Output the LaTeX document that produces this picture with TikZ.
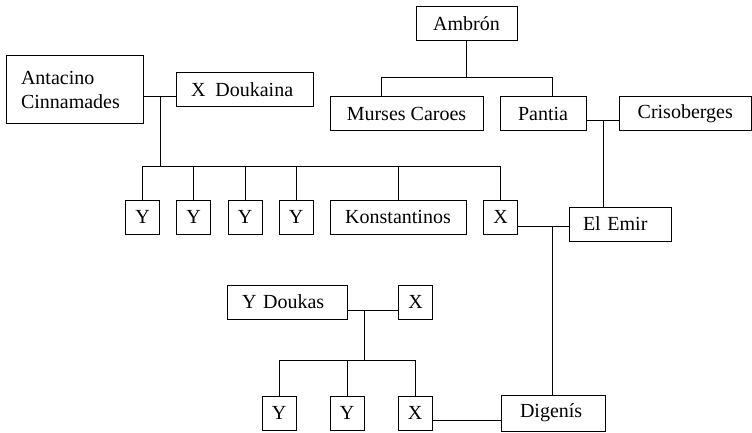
\documentclass[tikz,border=0pt]{standalone}
\usepackage{fontspec}
\setmainfont{Liberation Serif}
\begin{document}
\begin{tikzpicture}[x=1pt,y=-1pt,line width=1pt,
    every node/.style={font=\fontsize{20}{24}\selectfont},
    box/.style={draw, inner sep=0pt, outer sep=0pt, align=center, minimum height=34pt},
    small/.style={box, minimum width=34pt}]
       \useasboundingbox (0,0) rectangle (752,433);
       \path (74.5,90)   node[box, minimum width=137pt, minimum height=68pt, align=left, text width=107pt] (antacino) {Antacino\\Cinnamades}
             (244.5,90)  node[box, minimum width=137pt, align=left, text width=107pt] (doukaina) {X\, Doukaina}
             (466.5,24)  node[box, minimum width=101pt] (ambron) {Ambrón}
             (406.5,114) node[box, minimum width=153pt] (murses) {Murses Caroes}
             (543,114)   node[box, minimum width=86pt]  (pantia) {Pantia}
             (685.25,114) node[box, minimum width=132.5pt] (crisoberges) {Crisoberges}
             (142.5,217) node[small] (ya) {Y}
             (193.5,217) node[small] (yb) {Y}
             (245,217)   node[small] (yc) {Y}
             (296,217)   node[small] (yd) {Y}
             (398,217)   node[box, minimum width=136pt] (konstantinos) {Konstantinos}
             (500.5,217) node[small] (xa) {X}
             (620,224)   node[box, minimum width=102pt, align=left, text width=74pt] (emir) {El Emir}
             (287,302)   node[box, minimum width=120pt, align=left, text width=90pt] (doukas) {Y Doukas}
             (415.5,302) node[small] (xb) {X}
             (279,413)   node[small] (ye) {Y}
             (347,413)   node[small] (yf) {Y}
             (415,413)   node[small] (xc) {X}
             (553,413)   node[box, minimum width=104pt, minimum height=36pt, align=left, text width=66pt] (digenis) {\raisebox{-1pt}{Digenís}};
       % junctions
       \coordinate (m1) at (160,97);
       \coordinate (b1) at (160,166);
       \coordinate (b2) at (466.5,78);
       \coordinate (b2l) at (381,78);
       \coordinate (b2r) at (552,78);
       \coordinate (m2) at (603,121);
       \coordinate (m3) at (552,226);
       \coordinate (m4) at (364,310);
       \coordinate (b3) at (364,360);
       \coordinate (m5) at (466,420);
       \draw (antacino.east |- m1) -- (doukaina.west |- m1);
       \draw (m1) -- (b1);
       \draw (ya.north) -- (ya |- b1) -- (xa |- b1) -- (xa.north);
       \foreach \n in {yb,yc,yd,konstantinos}
         \draw (\n.north) -- (\n |- b1);
       \draw (ambron) -- (b2);
       \draw (b2l |- murses.north) -- (b2l) -- (b2r) -- (b2r |- pantia.north);
       \draw (pantia.east |- m2) -- (crisoberges.west |- m2);
       \draw (m2) -- (m2 |- emir.north);
       \draw (xa.east |- m3) -- (emir.west |- m3);
       \draw (m3) -- (m3 |- digenis.north);
       \draw (doukas.east |- m4) -- (xb.west |- m4);
       \draw (m4) -- (b3);
       \draw (ye.north) -- (ye |- b3) -- (xc |- b3) -- (xc.north);
       \draw (yf.north) -- (yf |- b3);
       \draw (xc.east |- m5) -- (digenis.west |- m5);
     \end{tikzpicture}
\end{document}
